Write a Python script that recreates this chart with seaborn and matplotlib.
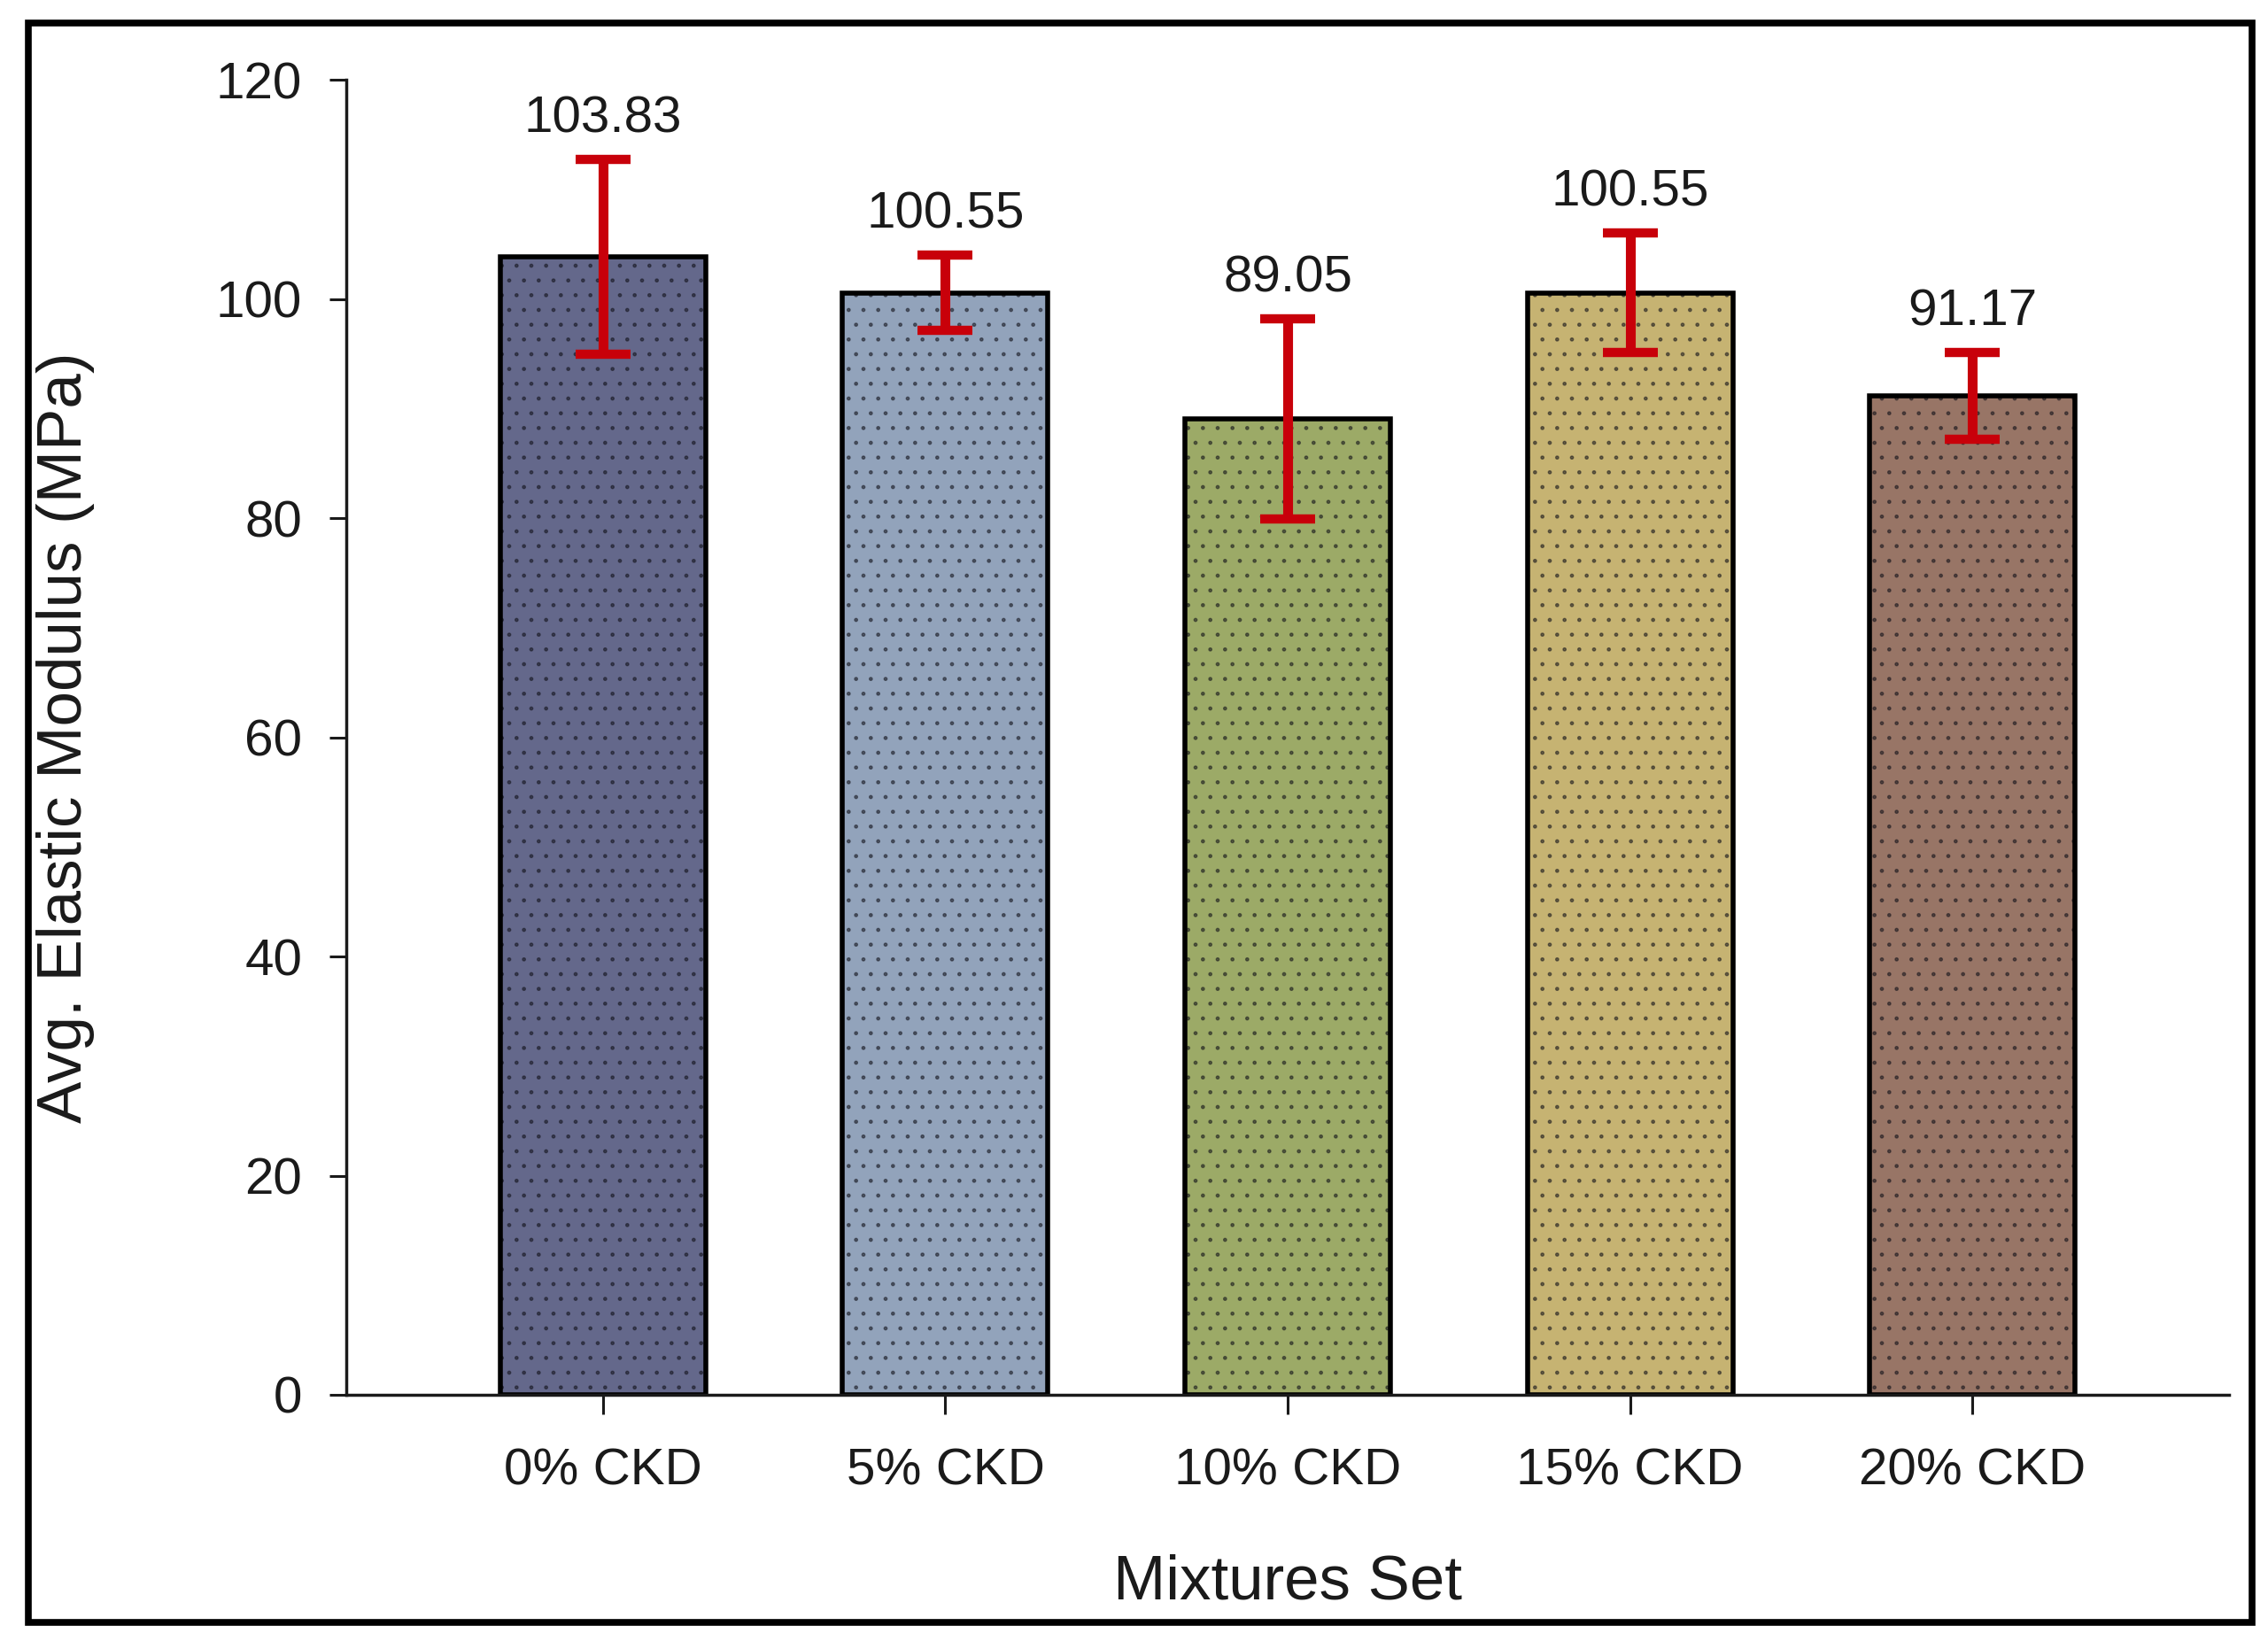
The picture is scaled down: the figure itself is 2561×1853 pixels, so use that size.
"""
Average elastic modulus of CKD mixtures - bar chart with error bars
"""

import numpy as np
import matplotlib
matplotlib.use("Agg")
import matplotlib.pyplot as plt
from matplotlib.colors import to_rgba
from matplotlib.patches import Rectangle
import seaborn as sns

# Data
mixtures = ["0% CKD", "5% CKD", "10% CKD", "15% CKD", "20% CKD"]
modulus = [103.83, 100.55, 89.05, 100.55, 91.17]
errors = [8.9, 3.45, 9.1, 5.45, 3.95]
bar_colors = ["#5d6392", "#8ba2c2", "#a3b55c", "#d4ba64", "#a0725e"]
y_ticks = [0, 20, 40, 60, 80, 100, 120]

sns.set_theme(style="white")
plt.rcParams["font.family"] = ["Liberation Sans", "DejaVu Sans"]
plt.rcParams["hatch.linewidth"] = 1.0

fig = plt.figure(figsize=(25.61, 18.53), dpi=100)
ax = fig.add_axes([391 / 2561, 1 - 1575 / 1853, (2517 - 391) / 2561, (1575 - 90) / 1853])

sns.barplot(x=mixtures, y=modulus, hue=mixtures, palette=bar_colors, legend=False,
            width=0.6, edgecolor="black", linewidth=4, errorbar=None, ax=ax, zorder=2)

# dotted fill like the original
for p in ax.patches:
    p.set_hatch(".")
    p._hatch_color = to_rgba("#101018", 0.5)

ax.errorbar(x=np.arange(len(mixtures)), y=modulus, yerr=errors, fmt="none",
            ecolor="#c8000a", elinewidth=8, capsize=22, capthick=7.5, zorder=4)

# value labels above the error bars
for i, (v, e) in enumerate(zip(modulus, errors)):
    ax.annotate(f"{v:.2f}", xy=(i, v + e), xytext=(0, 22), textcoords="offset points",
                ha="center", va="baseline", fontsize=42, color="#1a1a1a")

ax.set_xlim(-0.75, len(mixtures) - 0.25)
ax.set_ylim(0, 120)
ax.set_yticks(y_ticks)

sns.despine(ax=ax)
for side in ["left", "bottom"]:
    ax.spines[side].set_linewidth(2.5)
    ax.spines[side].set_color("#1a1a1a")

ax.tick_params(axis="y", direction="out", length=14, width=2.2, pad=22,
               labelsize=42, colors="#1a1a1a", left=True)
ax.tick_params(axis="x", direction="out", length=16, width=2.2, pad=27,
               labelsize=42, colors="#1a1a1a", bottom=True)

ax.set_xlabel("Mixtures Set", fontsize=51, color="#1a1a1a")
ax.set_ylabel("Avg. Elastic Modulus (MPa)", fontsize=51, color="#1a1a1a")
ax.xaxis.set_label_coords(0.5, -0.121)
ax.yaxis.set_label_coords(-0.1336, 0.5)

# black frame around the whole figure
fig.patches.append(Rectangle((0.0123, 0.0113), 0.993 - 0.0123, 0.9857 - 0.0113,
                             transform=fig.transFigure, fill=False,
                             edgecolor="black", linewidth=5.5, zorder=10))

fig.savefig("out.png", dpi=100)
